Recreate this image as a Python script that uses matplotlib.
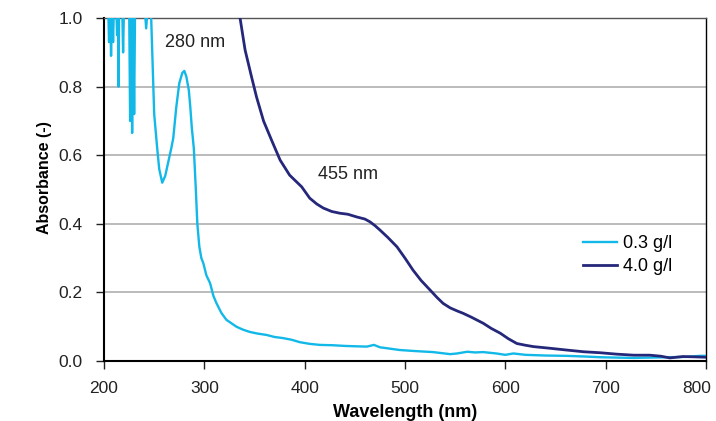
import matplotlib.pyplot as plt
import matplotlib.transforms as mtransforms
import numpy as np

plt.rcParams.update({
    'font.family': ['Liberation Sans', 'DejaVu Sans'],
    'font.size': 10,
})

# 0.3 g/l spectrum (wavelength nm, absorbance)
wl_low = [200, 204, 205, 206, 207, 208, 209, 210, 212, 213, 214, 214.5, 215, 218, 219, 220,
          225, 226, 227, 228, 229, 230, 231, 237, 240, 242, 244, 247, 250, 253, 255, 258,
          261, 264, 267, 269, 272, 275, 278, 280, 282, 284.5, 286, 287.5, 289.5, 291.5, 293,
          295, 297, 299, 302, 305.7, 309, 312, 317, 322, 327, 332, 338, 345, 353, 362, 370,
          378, 387, 395, 405, 415, 428, 440, 450, 462, 469, 475, 485, 495, 510, 528, 545,
          552, 562, 570, 578, 591, 600, 608, 620, 640, 661, 680, 695, 710, 728, 745, 761,
          780, 794, 800]
abs_low = [1.05, 1.05, 0.93, 1.05, 0.89, 1.05, 0.93, 1.05, 1.05, 0.95, 1.05, 0.80, 1.05, 1.05, 0.90, 1.05,
           1.05, 0.70, 1.05, 0.665, 1.05, 0.72, 1.05, 1.05, 1.05, 0.97, 1.05, 1.0, 0.72, 0.62, 0.56, 0.52,
           0.54, 0.58, 0.62, 0.65, 0.74, 0.81, 0.84, 0.846, 0.83, 0.79, 0.74, 0.68, 0.62, 0.50, 0.40,
           0.333, 0.30, 0.285, 0.25, 0.227, 0.19, 0.169, 0.14, 0.12, 0.11, 0.10, 0.092, 0.085, 0.08, 0.076, 0.07,
           0.067, 0.062, 0.055, 0.05, 0.047, 0.046, 0.044, 0.043, 0.042, 0.047, 0.04, 0.036, 0.032, 0.029, 0.026, 0.02,
           0.022, 0.027, 0.025, 0.026, 0.022, 0.018, 0.022, 0.018, 0.016, 0.015, 0.013, 0.011, 0.01, 0.009, 0.01, 0.011,
           0.012, 0.015, 0.015]

# 4.0 g/l spectrum
wl_high = [333, 335.6, 340.6, 347, 352, 359, 367, 375.5, 385, 397, 405, 412, 418.6, 427, 435, 443,
           452, 460, 465, 470, 475, 483, 492, 500, 508, 516, 525, 532, 538, 545, 552, 558, 566,
           578, 586, 595, 603, 611.5, 620, 628, 645, 661, 678, 695, 711, 728, 744, 755, 764,
           777, 790, 800]
abs_high = [1.05, 1.0, 0.907, 0.829, 0.77, 0.70, 0.644, 0.586, 0.542, 0.508, 0.475, 0.458, 0.446, 0.436, 0.431, 0.428,
            0.42, 0.414, 0.406, 0.395, 0.382, 0.36, 0.333, 0.30, 0.265, 0.235, 0.207, 0.185, 0.168, 0.155, 0.146, 0.139, 0.128,
            0.11, 0.095, 0.081, 0.065, 0.051, 0.046, 0.042, 0.037, 0.032, 0.027, 0.024, 0.02, 0.017, 0.017, 0.014, 0.009,
            0.013, 0.012, 0.011]

x_ticks = [200, 300, 400, 500, 600, 700, 800]
y_ticks = [0.0, 0.2, 0.4, 0.6, 0.8, 1.0]

c_low = '#12b9e8'
c_high = '#25287a'

fig = plt.figure(figsize=(7.16, 4.21), dpi=100)
ax = fig.add_axes([0.1453, 0.1425, 0.8407, 0.8145])

ax.plot(wl_low, abs_low, color=c_low, lw=1.7, label='0.3 g/l', zorder=3)
ax.plot(wl_high, abs_high, color=c_high, lw=2.0, label='4.0 g/l', zorder=3)

ax.set_xlim(200, 800)
ax.set_ylim(0, 1.0)
ax.set_xticks(x_ticks)
ax.set_yticks(y_ticks)
ax.yaxis.set_major_formatter(plt.FormatStrFormatter('%.1f'))
ax.grid(True, axis='y', color='#a8a8a8', lw=1.1)
ax.set_axisbelow(True)

ax.spines['left'].set_linewidth(1.5)
ax.spines['bottom'].set_linewidth(1.5)
ax.spines['right'].set_linewidth(1.0)
ax.spines['top'].set_linewidth(1.0)
ax.spines['top'].set_color('#555555')
ax.tick_params(axis='both', direction='out', length=5.5, width=1, labelsize=12.5,
               colors='#222222')
ax.tick_params(axis='x', pad=9)
ax.tick_params(axis='y', pad=10)

# last x label sits a bit left of its tick in the original
lbls = ax.get_xticklabels()
lbls[-1].set_transform(lbls[-1].get_transform() +
                       mtransforms.ScaledTranslation(-9 / 100, 0, fig.dpi_scale_trans))

ax.set_xlabel('Wavelength (nm)', fontsize=13, fontweight='bold', labelpad=6)
ax.set_ylabel('Absorbance (-)', fontsize=11.5, fontweight='bold')
ax.yaxis.set_label_coords(-0.086, 0.536)

ax.text(261, 0.93, '280 nm', fontsize=13, color='#222222', va='center')
ax.text(413, 0.545, '455 nm', fontsize=13, color='#222222', va='center')

ax.legend(loc='center left', bbox_to_anchor=(0.796, 0.309), frameon=False, fontsize=13,
          handlelength=1.9, handletextpad=0.3, labelspacing=0.35,
          borderaxespad=0, borderpad=0)

plt.savefig('out.png', dpi=100)
